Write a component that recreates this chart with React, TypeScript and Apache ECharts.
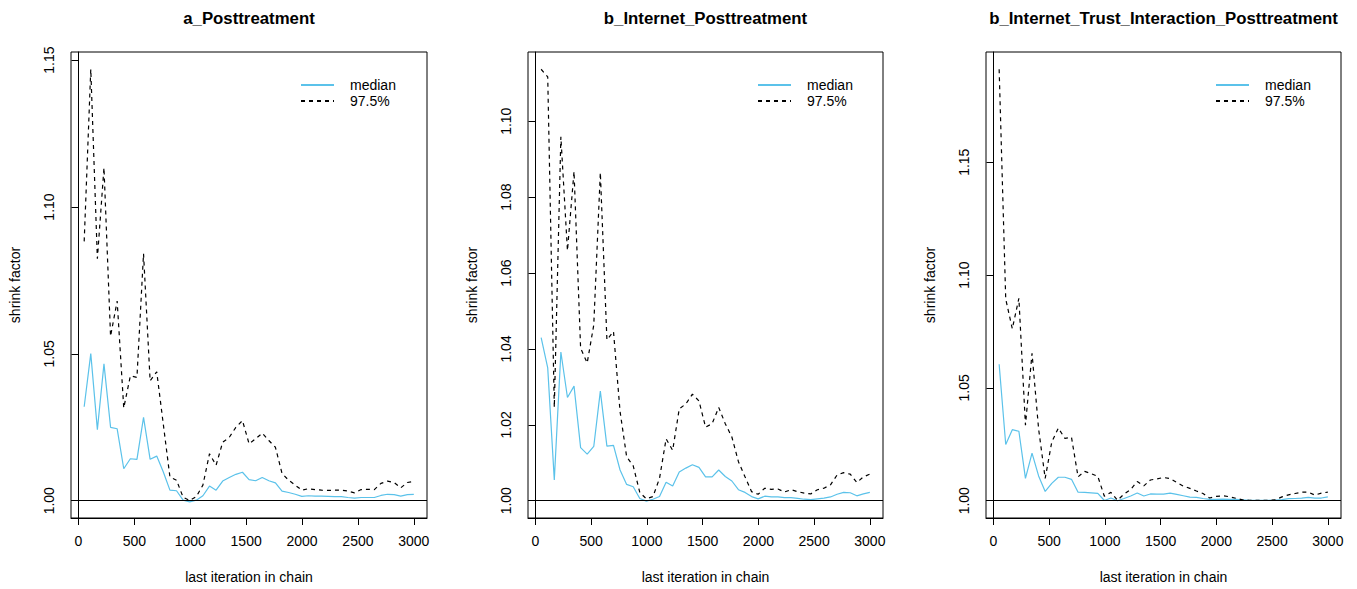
import React, { useEffect, useRef } from 'react';
import * as echarts from 'echarts';

// ---------- data ----------
const lastIter = [51, 110, 169, 228, 287, 346, 405, 464, 523, 582, 641, 700, 759, 818, 877, 936, 995, 1054, 1113, 1172, 1231, 1290, 1349, 1408, 1467, 1526, 1585, 1644, 1703, 1762, 1821, 1880, 1939, 1998, 2057, 2116, 2175, 2234, 2293, 2352, 2411, 2470, 2529, 2588, 2647, 2706, 2765, 2824, 2883, 2942, 3000];

const titles = ['a_Posttreatment', 'b_Internet_Posttreatment', 'b_Internet_Trust_Interaction_Posttreatment'];

const medianA = [1.0320, 1.0501, 1.0242, 1.0466, 1.0250, 1.0245, 1.0109, 1.0143, 1.0141, 1.0284, 1.0141, 1.0152, 1.0098, 1.0036, 1.0034, 1.0002, 0.9996, 1.0002, 1.0017, 1.0050, 1.0036, 1.0067, 1.0079, 1.0090, 1.0097, 1.0072, 1.0068, 1.0079, 1.0068, 1.0061, 1.0033, 1.0028, 1.0022, 1.0015, 1.0017, 1.0016, 1.0016, 1.0015, 1.0014, 1.0014, 1.0011, 1.0009, 1.0011, 1.0011, 1.0011, 1.0018, 1.0022, 1.0021, 1.0016, 1.0021, 1.0022];
const upperA = [1.0883, 1.1469, 1.0824, 1.1134, 1.0560, 1.0680, 1.0316, 1.0425, 1.0420, 1.0841, 1.0408, 1.0439, 1.0260, 1.0081, 1.0070, 1.0012, 1.0001, 1.0014, 1.0053, 1.0160, 1.0121, 1.0199, 1.0216, 1.0250, 1.0273, 1.0194, 1.0211, 1.0230, 1.0205, 1.0182, 1.0093, 1.0070, 1.0053, 1.0036, 1.0041, 1.0038, 1.0036, 1.0035, 1.0036, 1.0036, 1.0033, 1.0027, 1.0038, 1.0039, 1.0038, 1.0059, 1.0067, 1.0062, 1.0044, 1.0062, 1.0066];

const medianB = [1.0430, 1.0350, 1.0055, 1.0392, 1.0272, 1.0302, 1.0140, 1.0123, 1.0143, 1.0289, 1.0144, 1.0146, 1.0081, 1.0043, 1.0037, 1.0006, 0.9999, 1.0004, 1.0011, 1.0049, 1.0039, 1.0076, 1.0086, 1.0095, 1.0088, 1.0063, 1.0063, 1.0081, 1.0064, 1.0052, 1.0029, 1.0022, 1.0011, 1.0005, 1.0012, 1.0010, 1.0010, 1.0008, 1.0008, 1.0006, 1.0004, 1.0003, 1.0005, 1.0007, 1.0010, 1.0017, 1.0022, 1.0021, 1.0013, 1.0018, 1.0022];
const upperB = [1.1137, 1.1117, 1.0246, 1.0959, 1.0659, 1.0868, 1.0402, 1.0363, 1.0463, 1.0865, 1.0424, 1.0446, 1.0235, 1.0116, 1.0092, 1.0022, 1.0005, 1.0011, 1.0059, 1.0163, 1.0133, 1.0242, 1.0255, 1.0281, 1.0263, 1.0194, 1.0203, 1.0246, 1.0203, 1.0168, 1.0103, 1.0063, 1.0024, 1.0017, 1.0033, 1.0030, 1.0031, 1.0023, 1.0029, 1.0024, 1.0020, 1.0018, 1.0029, 1.0033, 1.0042, 1.0068, 1.0074, 1.0070, 1.0048, 1.0063, 1.0070];

const medianC = [1.0605, 1.0249, 1.0315, 1.0308, 1.0099, 1.0211, 1.0110, 1.0041, 1.0077, 1.0104, 1.0104, 1.0095, 1.0038, 1.0037, 1.0035, 1.0033, 1.0001, 1.0012, 1.0000, 1.0010, 1.0021, 1.0034, 1.0021, 1.0030, 1.0029, 1.0029, 1.0034, 1.0028, 1.0022, 1.0016, 1.0015, 1.0010, 1.0006, 1.0006, 1.0007, 1.0006, 1.0006, 1.0004, 1.0002, 1.0002, 1.0002, 1.0002, 1.0003, 1.0005, 1.0009, 1.0010, 1.0012, 1.0015, 1.0012, 1.0012, 1.0017];
const upperC = [1.1912, 1.0894, 1.0762, 1.0897, 1.0335, 1.0653, 1.0318, 1.0099, 1.0260, 1.0322, 1.0276, 1.0281, 1.0106, 1.0130, 1.0120, 1.0108, 1.0020, 1.0037, 1.0002, 1.0030, 1.0050, 1.0085, 1.0066, 1.0092, 1.0097, 1.0103, 1.0098, 1.0081, 1.0065, 1.0055, 1.0043, 1.0032, 1.0012, 1.0019, 1.0022, 1.0018, 1.0011, 1.0004, 1.0002, 1.0002, 1.0002, 1.0002, 1.0004, 1.0017, 1.0026, 1.0032, 1.0038, 1.0038, 1.0025, 1.0034, 1.0038];

const xTicks = [0, 500, 1000, 1500, 2000, 2500, 3000];
const yTicksA = [1.0, 1.05, 1.1, 1.15];
const yTicksB = [1.0, 1.02, 1.04, 1.06, 1.08, 1.1];
const yTicksC = [1.0, 1.05, 1.1, 1.15];

const seriesNames = ['median', '97.5%'];
const xTitle = 'last iteration in chain';
const yTitle = 'shrink factor';

// ---------- layout / style ----------
const FONT = '"Liberation Sans", Arial, Helvetica, sans-serif';
const BASE = 14;
const gridLefts = [71, 528, 986];
const gridWidths = [356, 355, 355];
const gridTop = 52;
const gridHeight = 471;
const legendLefts = [300, 757, 1215];
const MEDIAN_COLOR = '#5BC2EA';

export default function App() {
  const ref = useRef<HTMLDivElement>(null);

  useEffect(() => {
    if (!ref.current) return;
    const chart = echarts.init(ref.current, undefined, { renderer: 'svg' });

    const panels = [
      { title: titles[0], median: medianA, upper: upperA, yTicks: yTicksA },
      { title: titles[1], median: medianB, upper: upperB, yTicks: yTicksB },
      { title: titles[2], median: medianC, upper: upperC, yTicks: yTicksC },
    ];

    // R-style 4% axis extension
    const xLo = lastIter[0];
    const xHi = lastIter[lastIter.length - 1];
    const xd = xHi - xLo;
    const xMin = xLo - 0.04 * xd;
    const xMax = xHi + 0.04 * xd;

    const grids: any[] = [];
    const xAxes: any[] = [];
    const yAxes: any[] = [];
    const series: any[] = [];
    const legends: any[] = [];
    const graphics: any[] = [];

    panels.forEach((p, k) => {
      const yHi = Math.max(1, ...p.upper, ...p.median);
      const yLo = 1;
      const yd = yHi - yLo;
      grids.push({
        left: gridLefts[k],
        top: gridTop,
        width: gridWidths[k],
        height: gridHeight,
        show: true,
        borderColor: '#000',
        borderWidth: 1,
        backgroundColor: 'transparent',
      });
      xAxes.push({
        gridIndex: k,
        type: 'value',
        min: xMin,
        max: xMax,
        axisLine: { show: true, lineStyle: { color: '#000', width: 1 } },
        splitLine: { show: false },
        axisTick: { show: true, customValues: xTicks, length: 7, inside: false, lineStyle: { color: '#000', width: 1 } },
        axisLabel: {
          customValues: xTicks,
          margin: 16,
          fontSize: BASE,
          color: '#000',
          fontFamily: FONT,
          formatter: (v: number) => String(Math.round(v)),
        },
        name: xTitle,
        nameLocation: 'middle',
        nameGap: 52,
        nameTextStyle: { fontSize: BASE, color: '#000', fontFamily: FONT },
      });
      yAxes.push({
        gridIndex: k,
        type: 'value',
        min: yLo - 0.04 * yd,
        max: yHi + 0.04 * yd,
        axisLine: { show: true, lineStyle: { color: '#000', width: 1 } },
        splitLine: { show: false },
        axisTick: { show: true, customValues: p.yTicks, length: 7, inside: false, lineStyle: { color: '#000', width: 1 } },
        axisLabel: {
          customValues: p.yTicks,
          rotate: 90,
          margin: 15,
          fontSize: BASE,
          color: '#000',
          fontFamily: FONT,
          formatter: (v: number) => v.toFixed(2),
        },
        name: yTitle,
        nameLocation: 'middle',
        nameGap: 49,
        nameRotate: 90,
        nameTextStyle: { fontSize: BASE, color: '#000', fontFamily: FONT },
      });
      series.push({
        name: seriesNames[0],
        type: 'line',
        xAxisIndex: k,
        yAxisIndex: k,
        symbol: 'none',
        showSymbol: false,
        legendIcon: 'none',
        silent: true,
        lineStyle: { color: MEDIAN_COLOR, width: 1.2, type: 'solid' },
        itemStyle: { color: MEDIAN_COLOR },
        data: lastIter.map((x, i) => [x, p.median[i]]),
        markLine: {
          silent: true,
          symbol: ['none', 'none'],
          label: { show: false },
          lineStyle: { color: '#000', type: 'solid', width: 1.2 },
          data: [{ yAxis: 1 }],
          z: 5,
        },
      });
      series.push({
        name: seriesNames[1],
        type: 'line',
        xAxisIndex: k,
        yAxisIndex: k,
        symbol: 'none',
        showSymbol: false,
        legendIcon: 'none',
        silent: true,
        lineStyle: { color: '#000', width: 1.2, type: [4, 4] },
        itemStyle: { color: '#000' },
        data: lastIter.map((x, i) => [x, p.upper[i]]),
      });
      legends.push({
        orient: 'vertical',
        left: legendLefts[k],
        top: 78,
        padding: 0,
        itemWidth: 33,
        itemHeight: 14,
        itemGap: 2,
        selectedMode: false,
        itemStyle: { opacity: 0 },
        data: seriesNames,
        textStyle: { fontSize: BASE, color: '#000', fontFamily: FONT, padding: [0, 0, 0, 11] },
      });
      graphics.push({
        type: 'text',
        x: gridLefts[k] + gridWidths[k] / 2,
        y: 18,
        silent: true,
        style: {
          text: p.title,
          fill: '#000',
          font: `bold ${BASE * 1.2}px ${FONT}`,
          align: 'center',
          verticalAlign: 'middle',
        },
      });
    });

    chart.setOption({
      animation: false,
      backgroundColor: '#fff',
      grid: grids,
      xAxis: xAxes,
      yAxis: yAxes,
      series,
      legend: legends,
      graphic: graphics,
    });

    return () => chart.dispose();
  }, []);

  return (
    <div
      ref={ref}
      style={{ position: 'absolute', left: 0, top: 0, width: 1357, height: 589 }}
    />
  );
}
